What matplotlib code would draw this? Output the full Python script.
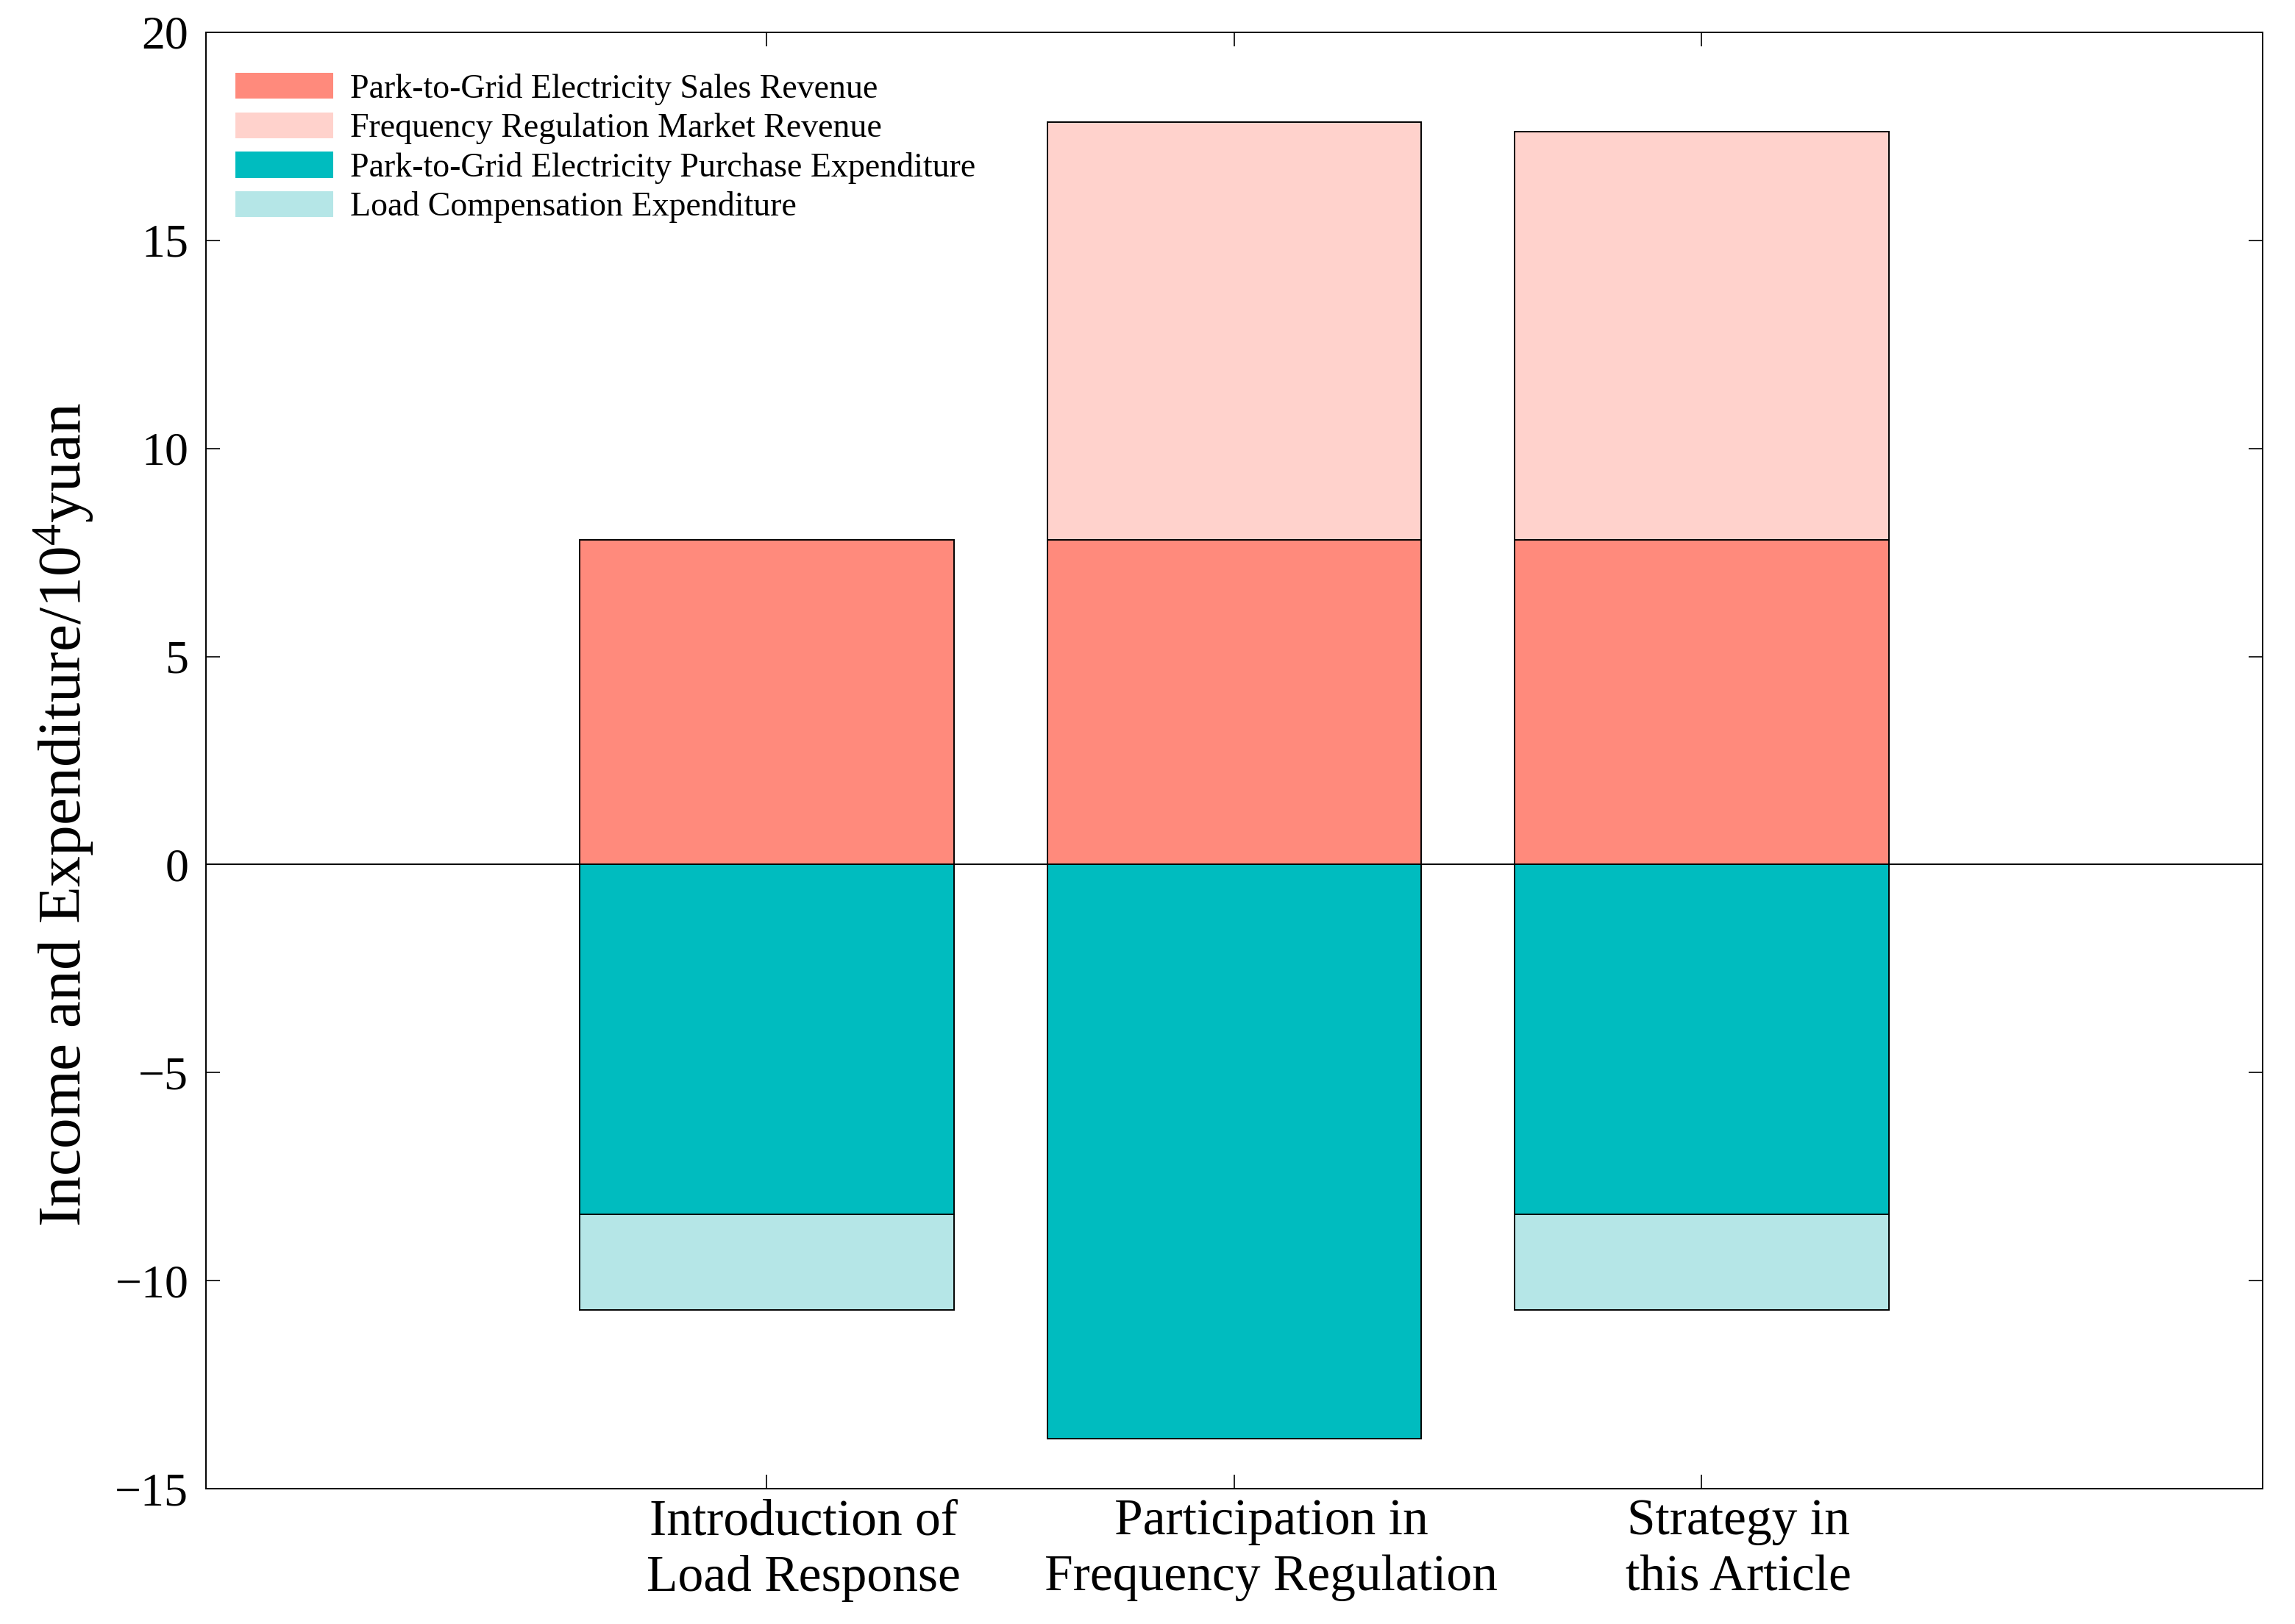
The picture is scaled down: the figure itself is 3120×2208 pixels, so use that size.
import matplotlib
matplotlib.use("Agg")
import matplotlib.pyplot as plt
import matplotlib.transforms as mtransforms
import matplotlib.patches as mpatches
import numpy as np

categories = ["Introduction of\nLoad Response",
              "Participation in\nFrequency Regulation",
              "Strategy in\nthis Article"]
sales_revenue = [7.8, 7.8, 7.8]
freq_revenue = [0.0, 10.04, 9.82]
purchase_exp = [-8.4, -13.79, -8.4]
load_comp_exp = [-2.31, 0.0, -2.31]
labels = ["Park-to-Grid Electricity Sales Revenue",
          "Frequency Regulation Market Revenue",
          "Park-to-Grid Electricity Purchase Expenditure",
          "Load Compensation Expenditure"]
colors = ["#FF8A7C", "#FFD2CC", "#00BCBF", "#B5E6E7"]
yticks = [-15, -10, -5, 0, 5, 10, 15, 20]

plt.rcParams['font.family'] = ['Liberation Serif', 'DejaVu Serif']
plt.rcParams['mathtext.fontset'] = 'custom'
plt.rcParams['mathtext.rm'] = 'Liberation Serif'
plt.rcParams['mathtext.it'] = 'Liberation Serif:italic'
plt.rcParams['axes.unicode_minus'] = True

fig = plt.figure(figsize=(15.6, 11.04), dpi=200)
ax = fig.add_axes([0.0897, 0.0833, 0.8962, 0.8968])

x = np.arange(1, len(categories) + 1)
w = 0.8
ek = dict(edgecolor='black', linewidth=0.7)
b1 = ax.bar(x, sales_revenue, w, color=colors[0], label=labels[0], **ek)
b2 = ax.bar(x, freq_revenue, w, bottom=sales_revenue, color=colors[1], label=labels[1], **ek)
b3 = ax.bar(x, purchase_exp, w, color=colors[2], label=labels[2], **ek)
b4 = ax.bar(x, load_comp_exp, w, bottom=purchase_exp, color=colors[3], label=labels[3], **ek)
for bars in (b2, b4):
    for r in bars:
        if r.get_height() == 0:
            r.set_visible(False)

ax.axhline(0, color='black', linewidth=0.7, zorder=3)
ax.set_xlim(-0.2, 4.2)
ax.set_ylim(-15, 20)
ax.set_yticks(yticks)
ax.set_xticks(x)
ax.set_xticklabels(categories, fontsize=25, linespacing=1.25)
ax.tick_params(axis='both', direction='in', length=7, width=0.6,
               top=True, right=True)
ax.tick_params(axis='y', labelsize=23, pad=8.5)
ax.tick_params(axis='x', labelsize=25, pad=5)
offset = mtransforms.ScaledTranslation(18 / 72, 0, fig.dpi_scale_trans)
for lab in ax.get_xticklabels():
    lab.set_transform(lab.get_transform() + offset)
for s in ax.spines.values():
    s.set_linewidth(0.7)

ax.set_ylabel(r'Income and Expenditure/10$^4$yuan', fontsize=30)
ax.yaxis.set_label_coords(-0.0535, 0.463)

hp = [mpatches.Patch(facecolor=c, edgecolor='none', label=l) for c, l in zip(colors, labels)]
ax.legend(handles=hp, loc='upper left', bbox_to_anchor=(0.0143, 0.972),
          frameon=False, fontsize=16.5, handlelength=2.9, handleheight=0.8,
          labelspacing=0.22, handletextpad=0.5, borderpad=0, borderaxespad=0)

fig.savefig("out.png", dpi=200)
